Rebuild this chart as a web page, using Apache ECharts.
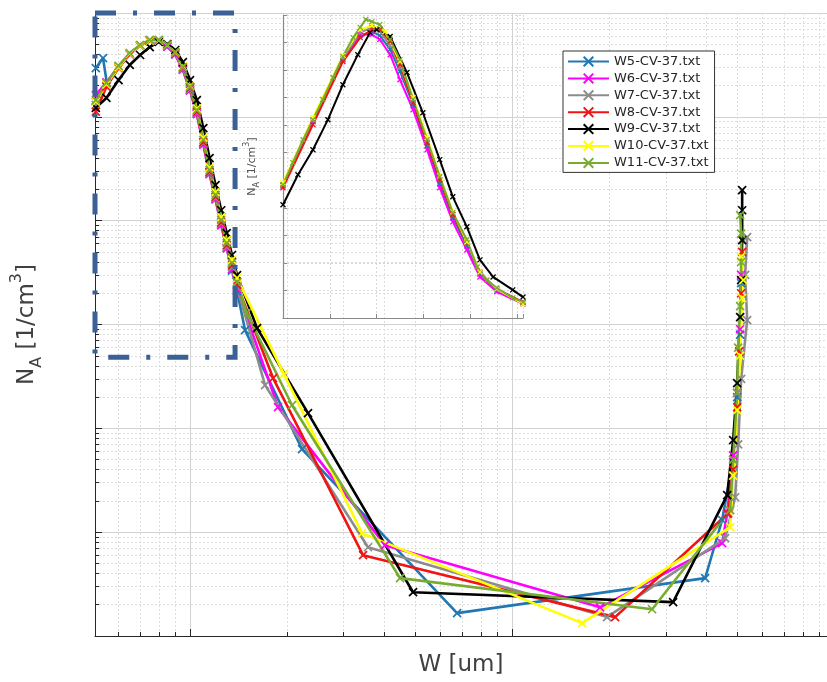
<!DOCTYPE html>
<html><head><meta charset="utf-8">
<script src="https://cdn.jsdelivr.net/npm/echarts@6/dist/echarts.min.js"></script>
<style>html,body{margin:0;padding:0;background:#fff;}#c{width:827px;height:682px;}</style>
</head><body><div id="c"></div>
<script>
const seriesNames = ['W5-CV-37.txt','W6-CV-37.txt','W7-CV-37.txt','W8-CV-37.txt','W9-CV-37.txt','W10-CV-37.txt','W11-CV-37.txt'];
const seriesColors = ['#2077b4','#ff00ff','#8c8c8c','#f01414','#000000','#ffff00','#77ac30'];

// main plot: [W (um), NA (1/cm^3)]
const w5Main = [[0.51,2.95e19],[0.537,3.68e19],[0.552,2.1e19],[0.6,3.05e19],[0.65,4.05e19],[0.7,4.85e19],[0.75,5.4e19],[0.8,5.35e19],[0.85,4.75e19],[0.9,4.0e19],[0.95,2.85e19],[1.0,1.8e19],[1.05,1.08e19],[1.1,5.5e18],[1.15,2.85e18],[1.2,1.62e18],[1.25,9.2e17],[1.3,5.5e17],[1.35,3.3e17],[1.4,2.1e17],[1.482,8.83e16],[2.227,6.31e15],[6.749,1.66e14],[39.76,3.61e14],[44.89,1.31e15],[48.57,5.0e15],[49.98,2.0e16],[51.06,8.0e16],[51.43,2.5e17]];
const w6Main = [[0.51,1.62e19],[0.55,2.15e19],[0.6,3.05e19],[0.65,4.05e19],[0.7,4.85e19],[0.75,5.4e19],[0.8,5.35e19],[0.85,4.75e19],[0.9,4.0e19],[0.95,2.85e19],[1.0,1.8e19],[1.05,1.06e19],[1.1,5.4e18],[1.15,2.8e18],[1.2,1.6e18],[1.25,9.0e17],[1.3,5.4e17],[1.35,3.4e17],[1.4,2.2e17],[1.876,1.6e16],[4.033,7.5e14],[18.76,1.89e14],[44.89,7.84e14],[46.54,1.5e15],[48.57,5.5e15],[49.98,2.2e16],[51.06,9.0e16],[51.43,3.0e17]];
const w7Main = [[0.51,1.3e19],[0.55,2.0e19],[0.6,3.0e19],[0.65,4.05e19],[0.7,4.88e19],[0.75,5.45e19],[0.8,5.42e19],[0.85,4.85e19],[0.9,4.1e19],[0.95,2.9e19],[1.0,1.85e19],[1.05,1.1e19],[1.1,5.6e18],[1.15,2.9e18],[1.2,1.65e18],[1.25,9.4e17],[1.3,5.6e17],[1.35,3.55e17],[1.4,2.3e17],[1.71,2.61e16],[3.57,7.16e14],[19.72,1.52e14],[45.86,8.75e14],[49.27,2.17e15],[50.34,7.0e15],[51.43,3.0e16],[53.69,1.1e17],[52.92,3.0e17],[53.69,6.95e17]];
const w8Main = [[0.51,1.12e19],[0.55,1.95e19],[0.6,2.95e19],[0.65,4.0e19],[0.7,4.85e19],[0.75,5.4e19],[0.8,5.45e19],[0.85,4.88e19],[0.9,4.15e19],[0.95,2.98e19],[1.0,1.9e19],[1.05,1.12e19],[1.1,5.7e18],[1.15,2.95e18],[1.2,1.7e18],[1.25,9.6e17],[1.3,5.8e17],[1.35,3.7e17],[1.4,2.4e17],[1.811,3.05e16],[3.445,6.0e14],[20.89,1.52e14],[46.87,1.52e15],[48.57,4.0e15],[49.98,1.6e16],[50.7,5.5e16],[51.43,2.0e17],[51.8,5.0e17]];
const w9Main = [[0.51,1.22e19],[0.55,1.52e19],[0.6,2.26e19],[0.65,3.16e19],[0.7,3.94e19],[0.75,4.7e19],[0.8,5.26e19],[0.85,5.03e19],[0.9,4.4e19],[0.95,3.37e19],[1.0,2.26e19],[1.05,1.45e19],[1.1,7.8e18],[1.15,4.01e18],[1.2,2.2e18],[1.25,1.26e18],[1.3,7.6e17],[1.35,4.67e17],[1.4,2.99e17],[1.615,9.23e16],[2.325,1.4e16],[4.926,2.64e14],[31.62,2.12e14],[46.54,2.27e15],[48.57,7.69e15],[49.98,2.72e16],[51.06,1.18e17],[51.43,2.68e17],[51.8,6.5e17],[51.8,1.26e18],[51.8,1.97e18]];
const w10Main = [[0.51,1.4e19],[0.55,2.05e19],[0.6,3.0e19],[0.65,4.05e19],[0.7,4.85e19],[0.75,5.42e19],[0.8,5.45e19],[0.85,4.9e19],[0.9,4.2e19],[0.95,3.05e19],[1.0,1.98e19],[1.05,1.2e19],[1.1,6.3e18],[1.15,3.25e18],[1.2,1.88e18],[1.25,1.08e18],[1.3,6.5e17],[1.35,4.2e17],[1.4,2.8e17],[1.958,3.33e16],[3.42,9.78e14],[16.5,1.33e14],[47.54,1.12e15],[48.57,3.5e15],[49.98,1.5e16],[51.06,5.0e16],[51.8,1.8e17],[52.2,2.68e17],[51.43,4.5e17]];
const w11Main = [[0.51,1.45e19],[0.55,2.12e19],[0.6,3.09e19],[0.65,4.12e19],[0.7,4.92e19],[0.75,5.5e19],[0.8,5.5e19],[0.85,4.92e19],[0.9,4.21e19],[0.95,3.02e19],[1.0,1.94e19],[1.05,1.16e19],[1.1,5.98e18],[1.15,3.07e18],[1.2,1.77e18],[1.25,1.01e18],[1.3,6.09e17],[1.35,3.91e17],[1.4,2.56e17],[1.5,1.29e17],[2.074,1.67e16],[4.489,3.61e14],[27.21,1.81e14],[47.54,1.63e15],[48.57,5.0e15],[49.98,2.2e16],[50.34,6.0e16],[51.06,1.5e17],[51.43,4.0e17],[51.43,7.5e17],[51.06,1.13e18]];

// inset (linear, arbitrary units)
const w5Inset = [[0,4.80],[0.64,7.13],[1.28,9.38],[1.65,10.25],[1.90,10.40],[2.07,10.25],[2.29,9.75],[2.50,8.95],[2.78,7.75],[3.08,6.25],[3.35,4.87],[3.63,3.64],[3.93,2.62],[4.21,1.60],[4.57,1.02],[5.13,0.55]];
const w6Inset = [[0,4.80],[0.64,7.13],[1.28,9.38],[1.65,10.29],[1.90,10.29],[2.07,10.11],[2.29,9.56],[2.50,8.65],[2.78,7.56],[3.08,6.11],[3.35,4.73],[3.63,3.49],[3.93,2.47],[4.21,1.49],[4.57,0.95],[5.13,0.51]];
const w7Inset = [[0,4.84],[0.64,7.16],[1.28,9.42],[1.65,10.36],[1.90,10.55],[2.07,10.40],[2.29,9.89],[2.50,9.09],[2.78,7.85],[3.08,6.40],[3.35,5.02],[3.63,3.75],[3.93,2.73],[4.21,1.64],[4.57,1.05],[5.13,0.58]];
const w8Inset = [[0,4.73],[0.64,7.02],[1.28,9.31],[1.65,10.18],[1.90,10.47],[2.07,10.47],[2.29,10.04],[2.50,9.20],[2.78,7.82],[3.08,6.36],[3.35,5.02],[3.63,3.75],[3.93,2.73],[4.21,1.67],[4.57,1.05],[5.13,0.58]];
const w9Inset = [[0,4.11],[0.32,5.20],[0.64,6.11],[0.96,7.20],[1.28,8.47],[1.60,9.56],[1.86,10.36],[2.01,10.47],[2.29,10.22],[2.65,8.91],[2.99,7.45],[3.35,5.75],[3.63,4.40],[3.93,3.31],[4.21,2.11],[4.49,1.49],[4.91,1.02],[5.13,0.76]];
const w10Inset = [[0,4.91],[0.64,7.27],[1.28,9.53],[1.65,10.47],[1.90,10.62],[2.18,10.40],[2.50,9.31],[2.78,8.00],[3.08,6.55],[3.35,5.16],[3.63,3.85],[3.93,2.76],[4.21,1.67],[4.57,1.05],[5.13,0.51]];
const w11Inset = [[0,4.84],[0.21,5.64],[0.43,6.47],[0.64,7.20],[0.85,7.93],[1.07,8.73],[1.28,9.49],[1.50,10.18],[1.65,10.55],[1.77,10.84],[1.90,10.76],[2.07,10.65],[2.29,10.11],[2.50,9.38],[2.78,7.93],[3.08,6.47],[3.35,5.13],[3.63,3.82],[3.93,2.84],[4.15,1.85],[4.36,1.38],[4.57,1.09],[4.91,0.73],[5.13,0.58]];

const mainData = [w5Main,w6Main,w7Main,w8Main,w9Main,w10Main,w11Main];
const insetData = [w5Inset,w6Inset,w7Inset,w8Inset,w9Inset,w10Inset,w11Inset];

const xTickVals = [0.6,0.7,0.8,0.9,1,2,3,4,5,6,7,8,9,10,20,30,40,50,60,70,80,90];
const xDecades = [1,10];
const yDecades = [1e14,1e15,1e16,1e17,1e18,1e19,1e20];
const yMultipliers = [1,2,3,4,5,6,7,8,9];
const yTickVals = [];
yDecades.slice(0,-1).forEach(d => yMultipliers.forEach(m => yTickVals.push(m*d)));
yTickVals.push(1e20);

const xSym = 'path://M0,0L10,10M10,0L0,10';
const FONT = 'DejaVu Sans';
const axisDark = '#262626';
const insetGray = '#8a8a8a';

const chart = echarts.init(document.getElementById('c'), null, {renderer:'canvas'});

const series = [];
mainData.forEach((d,i) => {
  const s = {
    type:'line', name: seriesNames[i], xAxisIndex:0, yAxisIndex:0, data:d,
    symbol:xSym, symbolSize:8, showSymbol:true,
    color: seriesColors[i],
    lineStyle:{width:2.6, color:seriesColors[i]},
    itemStyle:{color:seriesColors[i], borderColor:seriesColors[i], borderWidth:1.7},
    emphasis:{disabled:true}
  };
  if (i === mainData.length-1) {
    s.markArea = {
      silent:true, z:20,
      itemStyle:{color:'rgba(0,0,0,0)', borderColor:'#3a6096', borderWidth:5, borderType:[21,17,4,17]},
      data:[[{coord:[0.507,1e20]},{coord:[1.38,4.85e16]}]]
    };
  }
  series.push(s);
});
insetData.forEach((d,i) => {
  series.push({
    type:'line', name: seriesNames[i], xAxisIndex:2, yAxisIndex:2, data:d,
    symbol:xSym, symbolSize:5, showSymbol:true,
    color: seriesColors[i],
    lineStyle:{width:2, color:seriesColors[i]},
    itemStyle:{color:seriesColors[i], borderColor:seriesColors[i], borderWidth:1.3},
    emphasis:{disabled:true}
  });
});

const option = {
  animation:false,
  backgroundColor:'#ffffff',
  textStyle:{fontFamily:FONT},
  grid:[
    {left:95, top:13, width:732, height:623},
    {left:283, top:15, width:240, height:303}
  ],
  legend:{
    data:seriesNames, orient:'vertical', left:563, top:51,
    padding:[4,6,3,4], itemWidth:41, itemHeight:12, itemGap:3.9,
    backgroundColor:'#ffffff', borderColor:'#333333', borderWidth:1, borderRadius:0,
    textStyle:{fontSize:13, color:'#262626', fontFamily:FONT},
    selectedMode:false
  },
  xAxis:[
    {gridIndex:0, type:'log', logBase:10, min:0.507, max:95, position:'bottom',
     name:'W [um]', nameLocation:'middle', nameGap:18,
     nameTextStyle:{fontSize:23, color:'#404040', fontFamily:FONT},
     axisLine:{show:true, lineStyle:{color:axisDark, width:1}},
     axisTick:{show:true, inside:true, length:4, customValues:xTickVals, lineStyle:{color:axisDark}},
     axisLabel:{show:false},
     splitLine:{show:true, lineStyle:{color:'#dcdcdc', width:1, type:[2,2]}}},
    {gridIndex:0, type:'log', logBase:10, min:0.507, max:95, position:'bottom',
     axisLine:{show:false},
     axisTick:{show:true, inside:true, length:7, customValues:xDecades, lineStyle:{color:axisDark}},
     axisLabel:{show:false},
     splitLine:{show:true, lineStyle:{color:'#d2d2d2', width:1}}},
    {gridIndex:1, type:'value', min:0, max:5.13, interval:1,
     axisLine:{show:true, lineStyle:{color:insetGray, width:1.2}},
     axisTick:{show:true, inside:true, length:4, lineStyle:{color:insetGray}},
     axisLabel:{show:false},
     splitLine:{show:true, lineStyle:{color:'#d8d8d8', width:1, type:[2,2]}}}
  ],
  yAxis:[
    {gridIndex:0, type:'log', logBase:10, min:1e14, max:1e20, position:'left',
     name:'{n|N}{s|A}{n| [1/cm}{p|3}{n|]}', nameLocation:'middle', nameGap:50, nameRotate:90,
     nameTextStyle:{color:'#404040', fontFamily:FONT, rich:{
       n:{fontSize:23, color:'#404040', fontFamily:FONT, lineHeight:36, verticalAlign:'middle'},
       s:{fontSize:16, color:'#404040', fontFamily:FONT, lineHeight:36, verticalAlign:'bottom'},
       p:{fontSize:16, color:'#404040', fontFamily:FONT, lineHeight:36, verticalAlign:'top'}}},
     axisLine:{show:true, lineStyle:{color:axisDark, width:1}},
     axisTick:{show:true, inside:true, length:4, customValues:yTickVals, lineStyle:{color:axisDark}},
     axisLabel:{show:false},
     splitLine:{show:true, lineStyle:{color:'#dcdcdc', width:1, type:[2,2]}}},
    {gridIndex:0, type:'log', logBase:10, min:1e14, max:1e20, position:'left',
     axisLine:{show:false},
     axisTick:{show:true, inside:true, length:7, customValues:yDecades, lineStyle:{color:axisDark}},
     axisLabel:{show:false},
     splitLine:{show:true, lineStyle:{color:'#d2d2d2', width:1}}},
    {gridIndex:1, type:'value', min:0, max:11, interval:1,
     name:'{n|N}{s|A}{n| [1/cm}{p|3}{n|]}', nameLocation:'middle', nameGap:22, nameRotate:90,
     nameTextStyle:{color:'#555555', fontFamily:FONT, rich:{
       n:{fontSize:11, color:'#555555', fontFamily:FONT, lineHeight:18, verticalAlign:'middle'},
       s:{fontSize:8, color:'#555555', fontFamily:FONT, lineHeight:18, verticalAlign:'bottom'},
       p:{fontSize:8, color:'#555555', fontFamily:FONT, lineHeight:18, verticalAlign:'top'}}},
     axisLine:{show:true, lineStyle:{color:insetGray, width:1.2}},
     axisTick:{show:true, inside:true, length:4, lineStyle:{color:insetGray}},
     axisLabel:{show:false},
     splitLine:{show:true, lineStyle:{color:'#d8d8d8', width:1, type:[2,2]}}}
  ],
  series: series
};
chart.setOption(option);
</script></body></html>
